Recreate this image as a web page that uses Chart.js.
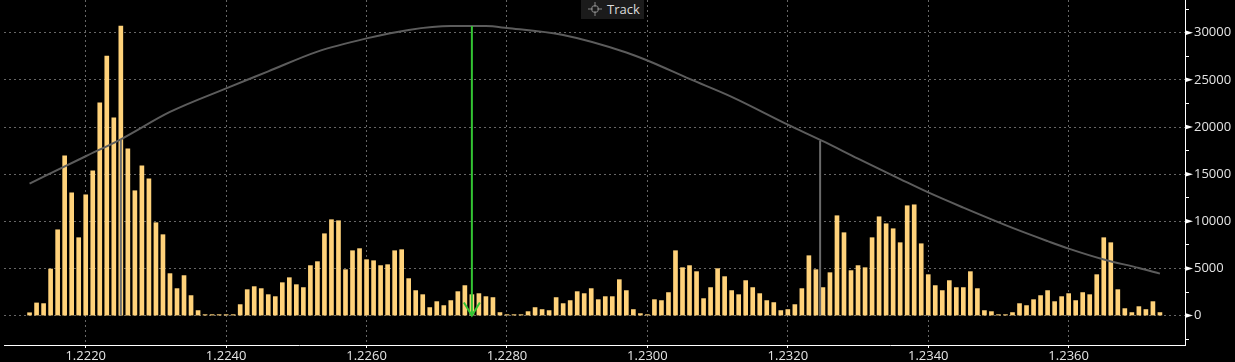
<!DOCTYPE html>
<html>
<head>
<meta charset="utf-8">
<script src="https://cdn.jsdelivr.net/npm/chart.js@4.4.1/dist/chart.umd.min.js"></script>
<style>
  html, body { margin: 0; padding: 0; background: #000; }
  #wrap { position: relative; width: 1235px; height: 362px; }
  #track {
    position: absolute; left: 581px; top: 0; width: 63px; height: 19px;
    background: #1b1b1b; color: #dcdcdc;
    font: 13px "Open Sans", sans-serif; line-height: 18px;
  }
  #track svg { position: absolute; left: 7px; top: 2px; }
  #track span { position: absolute; left: 26px; top: 0; }
</style>
</head>
<body>
<div id="wrap">
  <canvas id="profile"></canvas>
  <div id="track">
    <svg width="14" height="14" viewBox="0 0 14 14">
      <circle cx="7" cy="7" r="3.5" fill="none" stroke="#8a8a8a" stroke-width="1"/>
      <path d="M7 0v5M7 9v5M0 7h5M9 7h5" stroke="#8a8a8a" stroke-width="1"/>
    </svg>
    <span>Track</span>
  </div>
</div>
<script>
// volume at price, one bucket every 0.0001 from 1.2212
const firstPrice = 1.2212;
const bucket = 0.0001;
const volumes = [
  300, 1340, 1270, 4940, 9100, 16950, 13020, 8260, 12810, 15360,
  22560, 27530, 20970, 30710, 17690, 13240, 15890, 14510, 9850, 8580,
  4450, 2860, 4240, 2120, 530, 100, 100, 100, 100, 100,
  1165, 2750, 3070, 2860, 2220, 2010, 3490, 4020, 3280, 2970,
  5300, 5720, 8680, 10170, 10060, 4870, 6880, 7100, 5930, 5820,
  5300, 5400, 6880, 6990, 3920, 2650, 2220, 850, 1480, 1060,
  1590, 2540, 3180, 2220, 2330, 2010, 1910, 320, 100, 100,
  100, 420, 850, 640, 530, 1910, 1270, 1590, 2540, 2330,
  2860, 1690, 2010, 2010, 3810, 2650, 640, 210, 100, 1690,
  1590, 2440, 6880, 5080, 5300, 4660, 1800, 2970, 4980, 4130,
  2650, 2220, 3710, 2970, 2330, 1590, 1380, 530, 640, 1165,
  2860, 6350, 4870, 2970, 4550, 10590, 8790, 4770, 5300, 5080,
  8260, 10480, 9740, 9210, 7730, 11650, 11750, 7620, 4340, 3180,
  2650, 3710, 2970, 2970, 4660, 2860, 530, 420, 100, 100,
  320, 1270, 1060, 1690, 2120, 2650, 1480, 2010, 2330, 1590,
  2440, 2220, 4340, 8260, 7730, 2750, 740, 320, 950, 640,
  1480, 320
];

// fitted distribution curve
const curvePrices = [1.2212, 1.2220, 1.2225, 1.2232, 1.2240, 1.2246, 1.2253, 1.2260, 1.2266, 1.2272,
  1.2277, 1.2280, 1.2288, 1.2297, 1.2300, 1.2306, 1.2312, 1.2320, 1.2325, 1.2330,
  1.2336, 1.2340, 1.2345, 1.2352, 1.2357, 1.2360, 1.2365, 1.2370, 1.2373];
const curveValues = [14000, 16900, 18700, 21600, 24100, 25900, 28000, 29400, 30300, 30700,
  30700, 30500, 29750, 27900, 27050, 25100, 23200, 20250, 18500, 16650,
  14480, 13060, 11450, 9300, 7900, 7100, 5950, 5050, 4450];

// markers: mean and +/- one sigma
const meanPrice = 1.2275, meanTop = 30700;
const lowPrice = 1.2225, lowTop = 18700;
const highPrice = 1.23246, highTop = 18550;

const xTicks = [1.2220, 1.2240, 1.2260, 1.2280, 1.2300, 1.2320, 1.2340, 1.2360];
const yTicks = [-2500, 0, 2500, 5000, 7500, 10000, 12500, 15000, 17500, 20000,
  22500, 25000, 27500, 30000, 32500];

const gridColor = 'rgba(120,120,120,0.85)';
const labelColor = '#e4e4e4';
const green = '#33c433';
const font = { family: 'Open Sans', size: 13 };

const markers = {
  id: 'markers',
  afterDatasetsDraw(chart) {
    const { ctx, scales: { x, y } } = chart;
    const ax = x.getPixelForValue(meanPrice), ay = y.getPixelForValue(0);
    ctx.save();
    ctx.strokeStyle = green;
    ctx.lineWidth = 2;
    ctx.beginPath();
    ctx.moveTo(ax - 8, ay - 13);
    ctx.lineTo(ax, ay);
    ctx.lineTo(ax + 8, ay - 13);
    ctx.stroke();
    ctx.restore();
  },
  afterDraw(chart) {
    const { ctx, scales: { y } } = chart;
    ctx.save();
    ctx.fillStyle = '#fff';
    y.ticks.forEach(t => {
      if (t.value % 5000) return;
      const py = y.getPixelForValue(t.value);
      ctx.beginPath();
      ctx.moveTo(y.left, py - 2.5);
      ctx.lineTo(y.left + 8, py);
      ctx.lineTo(y.left, py + 2.5);
      ctx.closePath();
      ctx.fill();
    });
    ctx.restore();
  }
};

new Chart(document.getElementById('profile'), {
  type: 'bar',
  data: {
    datasets: [
      {
        type: 'line',
        data: [{ x: meanPrice, y: meanTop }, { x: meanPrice, y: 0 }],
        borderColor: green, borderWidth: 2, pointRadius: 0, order: 1
      },
      {
        type: 'line',
        data: [{ x: lowPrice, y: lowTop }, { x: lowPrice, y: 0 }],
        borderColor: '#6a6a6a', borderWidth: 2, pointRadius: 0, order: 1
      },
      {
        type: 'line',
        data: [{ x: highPrice, y: highTop }, { x: highPrice, y: 0 }],
        borderColor: '#6a6a6a', borderWidth: 2, pointRadius: 0, order: 1
      },
      {
        type: 'line',
        data: curvePrices.map((p, i) => ({ x: p, y: curveValues[i] })),
        borderColor: '#5c5c5c', borderWidth: 2, pointRadius: 0,
        cubicInterpolationMode: 'monotone', order: 2
      },
      {
        data: volumes.map((v, i) => ({ x: firstPrice + i * bucket, y: v })),
        backgroundColor: '#ffd27a', borderWidth: 0, barThickness: 4, order: 5
      }
    ]
  },
  options: {
    responsive: true,
    maintainAspectRatio: false,
    animation: false,
    layout: { padding: { left: 4, top: 0, right: 0, bottom: 0 } },
    plugins: { legend: { display: false }, tooltip: { enabled: false } },
    scales: {
      x: {
        type: 'linear',
        min: 1.220836, max: 1.237657,
        offset: false,
        afterBuildTicks: s => { s.ticks = xTicks.map(v => ({ value: v })); },
        afterFit: s => { s.height = 17; s.paddingLeft = 0; s.paddingRight = 0; },
        ticks: { callback: v => v.toFixed(4), color: labelColor, font, padding: 0, maxRotation: 0, autoSkip: false },
        grid: { color: gridColor, offset: false, tickColor: '#fff', tickLength: 3 },
        border: { color: '#fff', width: 1, dash: [2, 3] }
      },
      y: {
        position: 'right',
        min: -3120, max: 33470,
        afterBuildTicks: s => { s.ticks = yTicks.map(v => ({ value: v })); },
        afterFit: s => { s.width = 50; s.paddingTop = 0; s.paddingBottom = 0; },
        ticks: { callback: v => (v % 5000 ? '' : String(v)), color: labelColor, font, padding: 5 },
        grid: {
          color: c => (c.tick && c.tick.value % 5000 === 0 ? gridColor : 'transparent'),
          tickColor: '#fff', tickLength: 4
        },
        border: { color: '#fff', width: 1, dash: [2, 3] }
      }
    }
  },
  plugins: [markers]
});
</script>
</body>
</html>
